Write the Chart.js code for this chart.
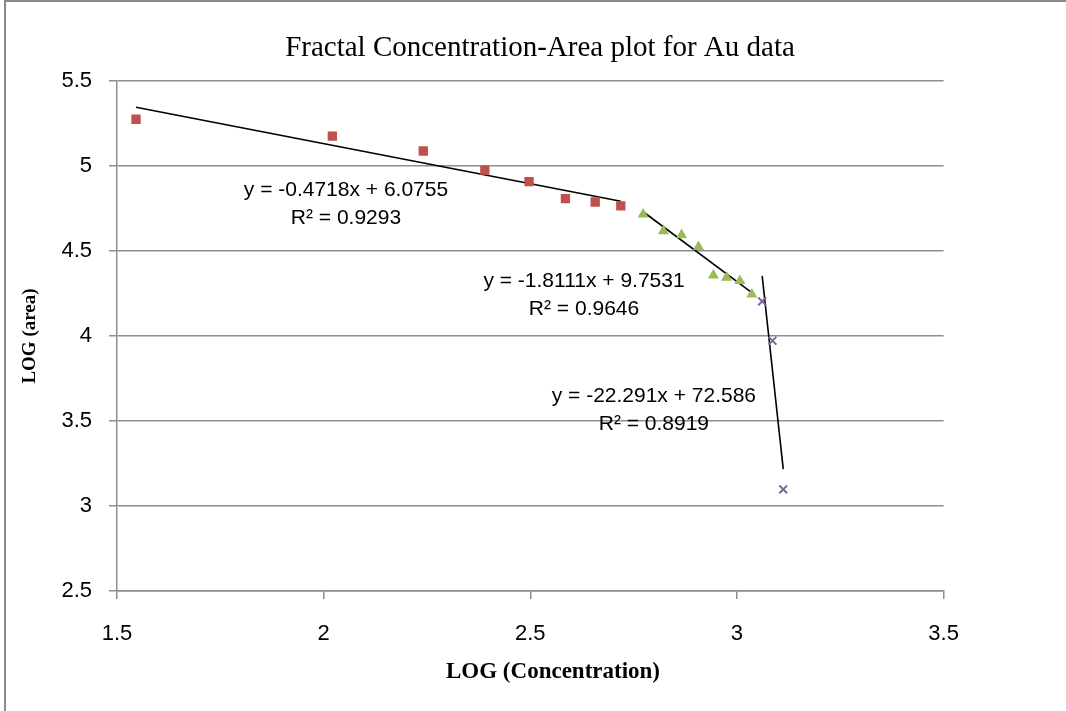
<!DOCTYPE html>
<html>
<head>
<meta charset="utf-8">
<script src="https://cdn.jsdelivr.net/npm/chart.js@4.4.1/dist/chart.umd.min.js"></script>
<style>
    html, body { margin: 0; padding: 0; background: #fff; }
    #wrap { position: relative; width: 1066px; height: 711px; overflow: hidden; }
    #frame { position: absolute; left: 4px; top: 0; width: 1100px; height: 760px; border: 2px solid #8a8a8a; box-sizing: border-box; }
    #cac { position: absolute; left: 0; top: 0; }
</style>
</head>
<body>
<div id="wrap">
    <div id="frame"></div>
    <canvas id="cac" width="1066" height="711"></canvas>
</div>
<script>
    // Data (LOG concentration vs LOG area)
    const concLow = [1.546, 2.021, 2.241, 2.390, 2.497, 2.585, 2.657, 2.719];
    const areaLow = [5.275, 5.176, 5.088, 4.976, 4.908, 4.808, 4.788, 4.765];
    const concMid = [2.773, 2.822, 2.866, 2.907, 2.943, 2.975, 3.007, 3.036];
    const areaMid = [4.716, 4.618, 4.594, 4.524, 4.357, 4.344, 4.324, 4.245];
    const concHigh = [3.061, 3.086, 3.112];
    const areaHigh = [4.204, 3.972, 3.098];

    // Trend line equations shown on the chart
    const slopes = [-0.4718, -1.8111, -22.291];
    const intercepts = [6.0755, 9.7531, 72.586];
    const rSquared = [0.9293, 0.9646, 0.8919];

    const xTicks = [1.5, 2, 2.5, 3, 3.5];
    const yTicks = [2.5, 3, 3.5, 4, 4.5, 5, 5.5];

    const gridGray = '#8e8e8e';
    const sans = "'Liberation Sans', Arial, sans-serif";
    const serif = "'Liberation Serif', 'Times New Roman', serif";

    const toPoints = (xs, ys) => xs.map((x, i) => ({ x: x, y: ys[i] }));
    const trend = (xs, k) => {
        const x0 = Math.min(...xs), x1 = Math.max(...xs);
        return [{ x: x0, y: slopes[k] * x0 + intercepts[k] }, { x: x1, y: slopes[k] * x1 + intercepts[k] }];
    };

    // where each equation label sits (data units, centre / first baseline)
    const labelAnchors = [
        { x: 2.054, y: 4.824 },
        { x: 2.630, y: 4.286 },
        { x: 2.799, y: 3.612 }
    ];

    const textPlugin = {
        id: 'texts',
        afterDraw(chart) {
            const c = chart.ctx;
            const xs = chart.scales.x, ys = chart.scales.y;
            c.save();
            c.fillStyle = '#000';
            c.textAlign = 'center';
            c.textBaseline = 'alphabetic';

            c.font = '21px ' + sans;
            labelAnchors.forEach((a, k) => {
                const px = xs.getPixelForValue(a.x);
                const py = ys.getPixelForValue(a.y);
                c.fillText('y = ' + slopes[k] + 'x + ' + intercepts[k], px, py);
                c.fillText('R\u00b2 = ' + rSquared[k], px, py + 28);
            });

            c.textBaseline = 'middle';
            c.font = '29px ' + serif;
            c.fillText('Fractal Concentration-Area plot for Au data', 540, 48);

            c.font = 'bold 23px ' + serif;
            c.fillText('LOG (Concentration)', 553, 672);
            c.restore();
        }
    };

    const ctx = document.getElementById('cac').getContext('2d');
    new Chart(ctx, {
        type: 'scatter',
        data: {
            datasets: [{
                data: toPoints(concLow, areaLow),
                pointStyle: 'rect',
                pointRadius: 6.6,
                backgroundColor: '#c0504d',
                borderColor: '#c0504d',
                borderWidth: 0
            }, {
                data: toPoints(concMid, areaMid),
                pointStyle: 'triangle',
                pointRadius: 6.4,
                backgroundColor: '#9bbb59',
                borderColor: '#9bbb59',
                borderWidth: 0
            }, {
                data: toPoints(concHigh, areaHigh),
                pointStyle: 'crossRot',
                pointRadius: 5.5,
                borderColor: '#8064a2',
                borderWidth: 2
            }, {
                type: 'line',
                data: trend(concLow, 0),
                borderColor: '#000',
                borderWidth: 1.6,
                pointRadius: 0
            }, {
                type: 'line',
                data: trend(concMid, 1),
                borderColor: '#000',
                borderWidth: 1.6,
                pointRadius: 0
            }, {
                type: 'line',
                data: trend(concHigh, 2),
                borderColor: '#000',
                borderWidth: 1.6,
                pointRadius: 0
            }]
        },
        options: {
            responsive: false,
            animation: false,
            events: [],
            layout: {
                padding: { top: 81, right: 122.4, bottom: 0, left: 0 }
            },
            plugins: {
                legend: { display: false },
                tooltip: { enabled: false }
            },
            scales: {
                x: {
                    type: 'linear',
                    min: 1.5,
                    max: 3.5,
                    afterBuildTicks(scale) {
                        scale.ticks = xTicks.map(v => ({ value: v }));
                    },
                    afterFit(scale) {
                        scale.height = 120;
                        scale.paddingLeft = 0;
                        scale.paddingRight = 0;
                    },
                    grid: {
                        drawOnChartArea: false,
                        drawTicks: true,
                        tickLength: 8,
                        color: gridGray,
                        lineWidth: 1.5
                    },
                    border: { display: true, color: gridGray, width: 1.5 },
                    ticks: {
                        color: '#000',
                        padding: 22,
                        maxRotation: 0,
                        callback: v => String(v),
                        font: { family: sans, size: 22 }
                    }
                },
                y: {
                    type: 'linear',
                    min: 2.5,
                    max: 5.5,
                    afterBuildTicks(scale) {
                        scale.ticks = yTicks.map(v => ({ value: v }));
                    },
                    afterFit(scale) {
                        scale.width = 117;
                        scale.paddingTop = 0;
                        scale.paddingBottom = 0;
                    },
                    grid: {
                        drawTicks: true,
                        tickLength: 8,
                        color: gridGray,
                        lineWidth: 1.5
                    },
                    border: { display: true, color: gridGray, width: 1.5 },
                    ticks: {
                        color: '#000',
                        padding: 17,
                        callback: v => String(v),
                        font: { family: sans, size: 22 }
                    },
                    title: {
                        display: true,
                        text: 'LOG (area)',
                        color: '#000',
                        padding: { top: 19, bottom: 0 },
                        font: { family: serif, size: 19, weight: 'bold' }
                    }
                }
            }
        },
        plugins: [textPlugin]
    });
</script>
</body>
</html>
